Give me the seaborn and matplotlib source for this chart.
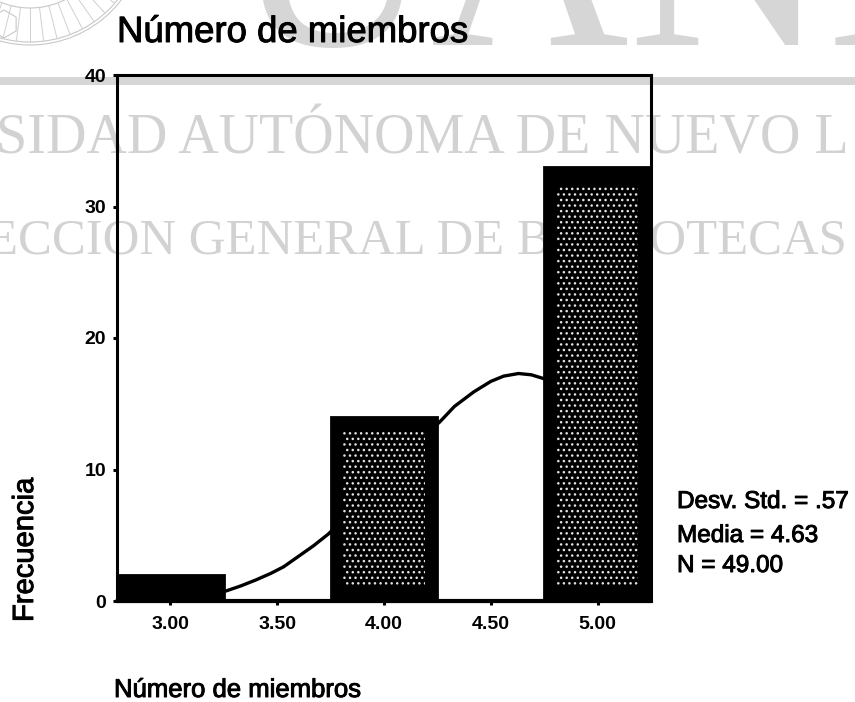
import numpy as np
import pandas as pd
import matplotlib
matplotlib.use("Agg")
import matplotlib.pyplot as plt
import matplotlib.patheffects as pe
from matplotlib.patches import Circle, RegularPolygon
import seaborn as sns

centers = [3.0, 4.0, 5.0]
counts = [2, 14, 33]
inner_bottom = [0, 1.06, 1.06]
inner_heights = [0, 11.9, 30.4]
curve_x = [3.26, 3.33, 3.40, 3.47, 3.53, 3.60, 3.67, 3.74, 3.87, 4.00, 4.13, 4.26, 4.33, 4.42, 4.50, 4.56, 4.63, 4.69, 4.75]
curve_y = [0.76, 1.15, 1.6, 2.1, 2.6, 3.4, 4.2, 5.1, 7.2, 9.5, 11.7, 13.6, 14.8, 15.9, 16.7, 17.1, 17.3, 17.2, 16.9]
xticks = [3.0, 3.5, 4.0, 4.5, 5.0]
xticklabels = ["3.00", "3.50", "4.00", "4.50", "5.00"]
yticks = [0, 10, 20, 30, 40]
stats_lines = ["Desv. Std. = .57", "Media = 4.63", "N = 49.00"]
W, H = 855, 702
sns.set_theme(style="white", rc={"hatch.linewidth": 1.0})
plt.rcParams["font.family"] = ["Liberation Sans", "DejaVu Sans"]
fig = plt.figure(figsize=(W/100, H/100), dpi=100, facecolor="white")
GRAY = "#d6d6d6"
STROKE = [pe.withStroke(linewidth=0.7, foreground="black")]
def fy(y): return 1 - y/H
def fx(x): return x/W
# watermark
bg = fig.add_axes([0, 0, 1, 1], zorder=0)
bg.set_xlim(0, W); bg.set_ylim(H, 0); bg.axis("off")
bg.fill_between([0, W], 77, 85, color=GRAY, lw=0)
for r in (115, 112, 78):
    bg.add_patch(Circle((30, -70), r, fill=False, ec="#c8c8c8", lw=0.8))
for a in np.radians(np.arange(20, 150, 7)):
    bg.plot([30+78*np.cos(a), 30+112*np.cos(a)], [-70+78*np.sin(a), -70+112*np.sin(a)], color="#d0d0d0", lw=0.7)
bg.add_patch(RegularPolygon((4, 24), 6, radius=14, fill=False, ec="#c8c8c8", lw=0.8))
serif = "Liberation Serif"
bg.text(232, 45, "UANL", fontsize=198, family=serif, color=GRAY, ha="left", va="baseline")
bg.text(-4, 153, "SIDAD AUTÓNOMA DE NUEVO L", fontsize=40.4, family=serif, color="#d2d2d2", va="baseline")
bg.text(-13, 253, "ECCION GENERAL DE BIBLIOTECAS", fontsize=36.5, family=serif, color="#d2d2d2", va="baseline")
# main axes
ax = fig.add_axes([117/W, 1-601/H, (651-117)/W, (601-75)/H], zorder=1)
ax.patch.set_alpha(0)
sns.lineplot(x=curve_x, y=curve_y, ax=ax, color="black", lw=2.4, zorder=1, estimator=None, sort=False)
sns.barplot(x=centers, y=counts, ax=ax, native_scale=True, width=0.5, color="black", saturation=1, linewidth=2, edgecolor="black", zorder=2)
sns.barplot(x=centers, y=inner_heights, bottom=inner_bottom, ax=ax, native_scale=True, width=0.38, color="black", saturation=1, linewidth=0, edgecolor="#e4e4e4", hatch="...", zorder=3)
ax.set_xlim(2.75, 5.25); ax.set_ylim(0, 40)
ax.axhline(0, color="black", lw=3, zorder=4, clip_on=False)
ax.set_xticks(xticks); ax.set_xticklabels(xticklabels, fontsize=14, fontweight="bold")
ax.set_yticks(yticks); ax.set_yticklabels([str(v) for v in yticks], fontsize=14, fontweight="bold")
ax.tick_params(axis="y", direction="out", length=3, width=2.2, color="black", left=True, pad=5, labelcolor="black")
ax.tick_params(axis="x", direction="out", length=3, width=2.2, color="black", bottom=True, pad=8, labelcolor="black")
for s in ax.spines.values():
    s.set_visible(True); s.set_color("black"); s.set_linewidth(2.2)
ax.set_xlabel(""); ax.set_ylabel("")
fig.text(fx(117), fy(42), "Número de miembros", fontsize=26.3, va="baseline", ha="left", color="black", path_effects=STROKE)
fig.text(fx(114), fy(697), "Número de miembros", fontsize=18.5, va="baseline", ha="left", color="black", path_effects=STROKE)
fig.text(fx(39), fy(622), "Frecuencia", fontsize=21, rotation=90, va="bottom", ha="right", color="black", path_effects=STROKE)
for s, y in zip(stats_lines, [508, 542, 572]):
    fig.text(fx(677), fy(y), s, fontsize=17.5, va="baseline", ha="left", color="black", path_effects=STROKE)
fig.savefig("out.png", dpi=100)
